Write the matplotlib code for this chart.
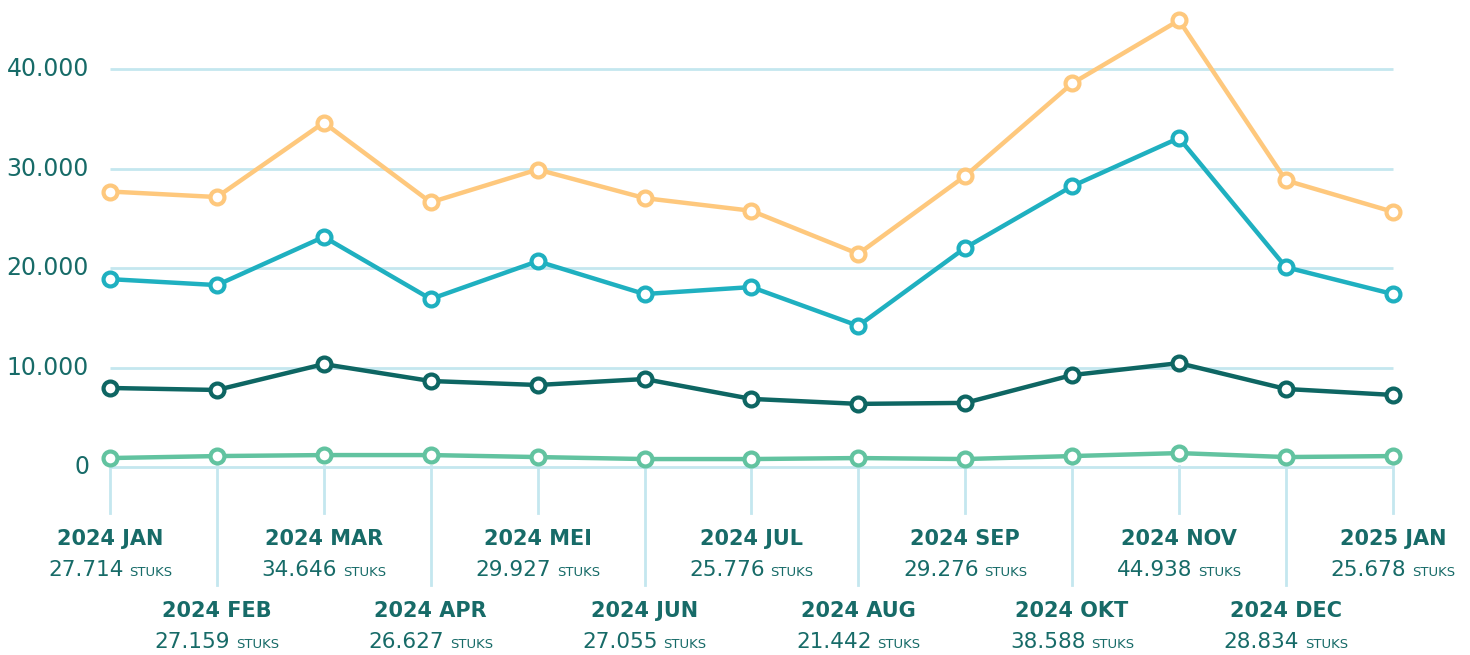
import matplotlib.pyplot as plt
from matplotlib.offsetbox import TextArea, HPacker, AnnotationBbox
from matplotlib.transforms import blended_transform_factory

# data
months = ["2024 JAN", "2024 FEB", "2024 MAR", "2024 APR", "2024 MEI", "2024 JUN",
          "2024 JUL", "2024 AUG", "2024 SEP", "2024 OKT", "2024 NOV", "2024 DEC",
          "2025 JAN"]
totaal = [27714, 27159, 34646, 26627, 29927, 27055, 25776, 21442, 29276, 38588,
          44938, 28834, 25678]
serie_b = [18900, 18300, 23150, 16900, 20700, 17400, 18100, 14200, 22050, 28250,
           33100, 20100, 17400]
serie_c = [7950, 7750, 10350, 8650, 8250, 8850, 6850, 6350, 6450, 9250, 10450,
           7850, 7250]
serie_d = [900, 1100, 1200, 1200, 1000, 800, 800, 900, 800, 1100, 1400, 1000, 1100]
y_ticks = [0, 10000, 20000, 30000, 40000]

text_col = "#176b68"
grid_col = "#c4e7ef"

fig = plt.figure(figsize=(14.7, 6.55), dpi=100)
ax = fig.add_axes([0, 0, 1, 1])
ax.axis("off")

# pixel mapping: x=0 at 110px, step 106.9px; y=0 at 467px, 10000 = 99.4px
step = 106.9
ax.set_xlim(-110 / step, (1470 - 110) / step)
ax.set_ylim(-(655 - 467) / 99.4 * 10000, 467 / 99.4 * 10000)

n = len(months)
ax.hlines(y_ticks, 0, n - 1, color=grid_col, lw=2, zorder=1)
for t in y_ticks:
    lab = f"{t:,}".replace(",", ".")
    ax.text(-21 / step, t, lab, ha="right", va="center", fontsize=17,
            color=text_col)

trans = blended_transform_factory(ax.transData, ax.transAxes)

def fy(p):
    return 1 - p / 655

for i in range(n):
    bottom = 513 if i % 2 == 0 else 585
    ax.plot([i, i], [fy(466), fy(bottom)], transform=trans, color=grid_col,
            lw=2, zorder=1)
    row = 0 if i % 2 == 0 else 72
    ax.text(i, fy(539 + row), months[i], transform=trans, ha="center",
            va="center", fontsize=15, fontweight="bold", color=text_col)
    val = TextArea(f"{totaal[i]:,}".replace(",", "."),
                   textprops=dict(fontsize=15.5, color=text_col))
    unit = TextArea("STUKS", textprops=dict(fontsize=9.5, color=text_col))
    box = HPacker(children=[val, unit], align="baseline", pad=0, sep=4)
    ab = AnnotationBbox(box, (i, fy(570 + row)), xycoords=trans, frameon=False,
                        box_alignment=(0.5, 0.5))
    ax.add_artist(ab)

series = [(totaal, "#fec87d"), (serie_b, "#1fb0c0"), (serie_c, "#0e6663"),
          (serie_d, "#62c3a0")]
x = list(range(n))
for vals, col in series:
    ax.plot(x, vals, color=col, lw=3.2, marker="o", markersize=10,
            markerfacecolor="white", markeredgecolor=col, markeredgewidth=3,
            zorder=3)

fig.savefig("out.png", dpi=100)
